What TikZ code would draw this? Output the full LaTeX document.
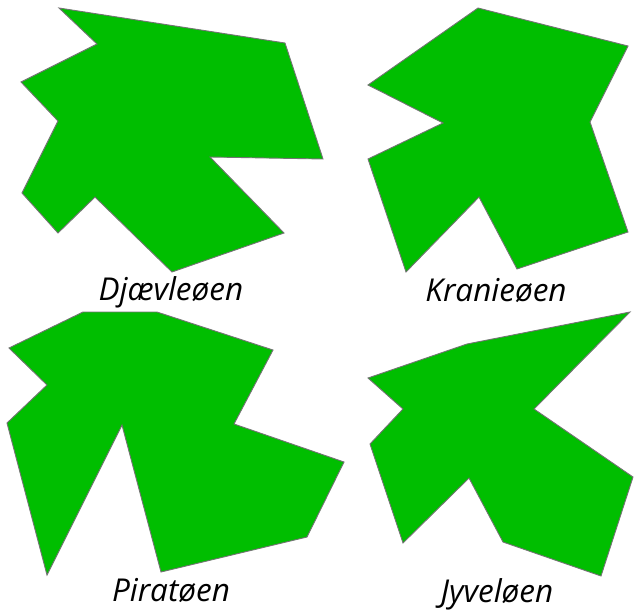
\documentclass[tikz,border=0pt]{standalone}
\usepackage{fontspec}
\setmainfont{Open Sans}
\usepackage{tikz}
\usepackage{xcolor}
\definecolor{islandgreen}{RGB}{0,190,0}
\definecolor{coastgray}{RGB}{115,115,115}

\begin{document}
\begin{tikzpicture}[x=1pt,y=-1pt,
  island/.style={fill=islandgreen,draw=coastgray,line width=0.9pt,line join=miter},
  islandname/.style={font=\fontsize{31.5}{36}\selectfont\itshape,inner sep=0pt,anchor=base}]
\useasboundingbox (0,0) rectangle (636,613);
\draw[island] (59,8) -- (285,43) -- (323,159) -- (210,157) -- (284,233) -- (172,272)
  -- (95,197) -- (58,233) -- (22,193) -- (58,121) -- (21,82) -- (97,44) -- cycle;
\node[islandname] (djaevle) at (171,300) {Djævleøen};
\draw[island] (478,8) -- (628,46) -- (590,122) -- (628,232) -- (517,269) -- (479,197)
  -- (406,272) -- (368,159) -- (443,123) -- (368,85) -- cycle;
\node[islandname] (kranie) at (496,301) {Kranieøen};
\draw[island] (83,312) -- (157,312) -- (273,350) -- (234,424) -- (344,462) -- (307,537)
  -- (161,572) -- (122,425) -- (47,575) -- (7,423) -- (47,385) -- (9,348) -- cycle;
\node[islandname] (pirat) at (171,601) {Piratøen};
\draw[island] (630,312) -- (534,409) -- (633,477) -- (601,576) -- (503,542) -- (469,478)
  -- (403,543) -- (370,444) -- (403,409) -- (368,378) -- (467,344) -- cycle;
\node[islandname] (jyvel) at (497,602) {Jyveløen};
\end{tikzpicture}
\end{document}
